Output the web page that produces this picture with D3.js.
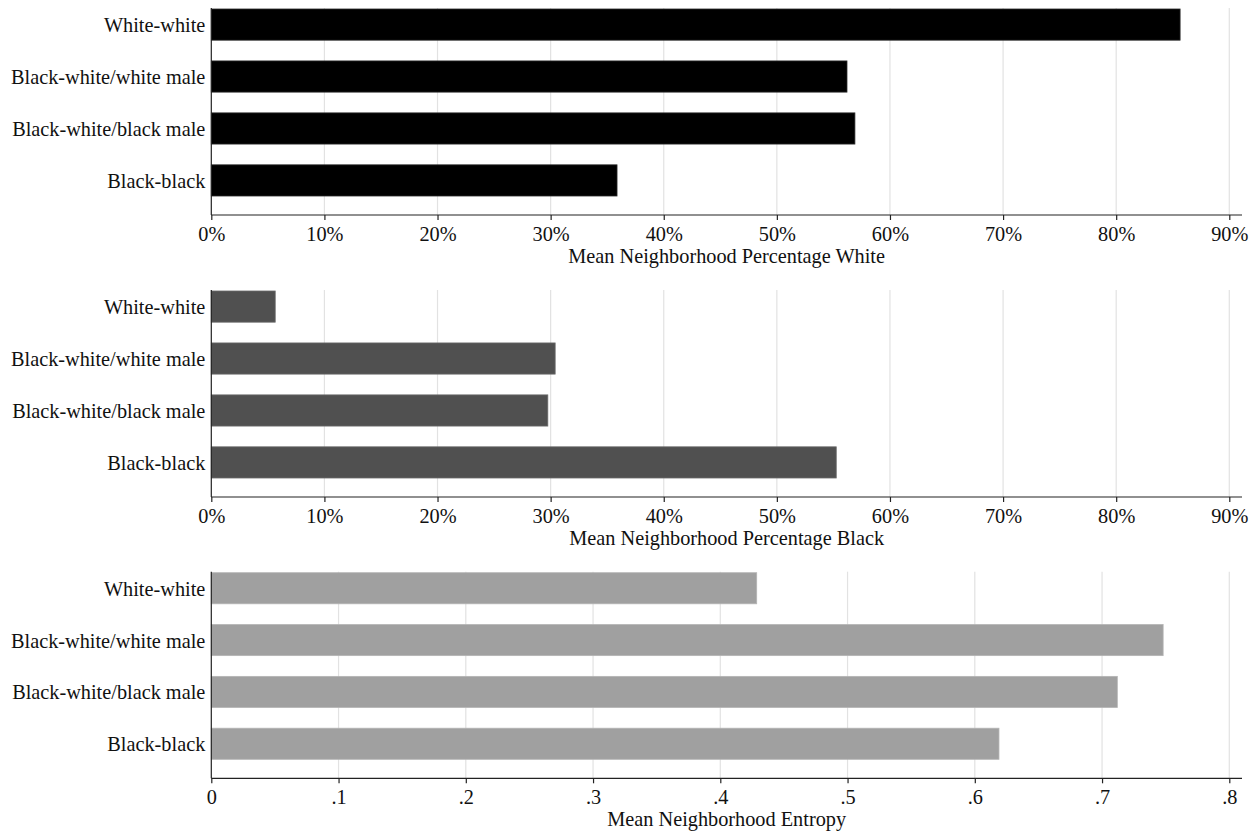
<!DOCTYPE html>
<html>
<head>
<meta charset="utf-8">
<script src="https://cdn.jsdelivr.net/npm/d3@7"></script>
<style>
  html, body { margin: 0; padding: 0; background: #fff; }
  svg { display: block; }
  text { font-family: "Liberation Serif", "Times New Roman", serif; fill: #111; }
</style>
</head>
<body>
<script>
// ---- Data ----
const categories = ["White-white", "Black-white/white male", "Black-white/black male", "Black-black"];
const pctWhite = [85.65, 56.2, 56.9, 35.87];
const pctBlack = [5.65, 30.4, 29.75, 55.25];
const entropy = [0.4286, 0.748, 0.712, 0.619];
const percentTicks = [0, 10, 20, 30, 40, 50, 60, 70, 80, 90];
const entropyTicks = [0, 0.1, 0.2, 0.3, 0.4, 0.5, 0.6, 0.7, 0.8];
const titles = ["Mean Neighborhood Percentage White", "Mean Neighborhood Percentage Black", "Mean Neighborhood Entropy"];

// ---- Layout ----
const W = 1259, H = 839;
const FS = 20.3;
const plotLeft = 211.3, lastTickX = 1229.3, plotRight = 1242;
const panels = [
  { values: pctWhite, ticks: percentTicks, max: 90, fmt: d => d + "%", title: titles[0],
    top: 8, axisY: 215, fill: "#000000", stroke: "#2a2a2a" },
  { values: pctBlack, ticks: percentTicks, max: 90, fmt: d => d + "%", title: titles[1],
    top: 290, axisY: 497, fill: "#505050", stroke: "#6a6a6a" },
  { values: entropy, ticks: entropyTicks, max: 0.8,
    fmt: d => d === 0 ? "0" : d3.format(".1f")(d).replace(/^0/, ""), title: titles[2],
    top: 571.7, axisY: 778.3, fill: "#a0a0a0", stroke: "#b4b4b4" }
];

const svg = d3.select("body").append("svg").attr("width", W).attr("height", H);

panels.forEach(p => {
  const g = svg.append("g");
  const x = d3.scaleLinear().domain([0, p.max]).range([plotLeft, lastTickX]);
  const y = d3.scaleBand().domain(categories)
    .range([p.top + 1, p.axisY - 19]).paddingInner(0.4).paddingOuter(0);

  // gridlines
  g.selectAll("line.grid").data(p.ticks.filter(t => t > 0)).join("line")
    .attr("class", "grid")
    .attr("x1", d => x(d)).attr("x2", d => x(d))
    .attr("y1", p.top).attr("y2", p.axisY)
    .attr("stroke", "#e2e2e2").attr("stroke-width", 1.2);

  // bars
  g.selectAll("rect.bar").data(p.values).join("rect")
    .attr("class", "bar")
    .attr("x", x(0))
    .attr("y", (d, i) => y(categories[i]))
    .attr("width", d => x(d) - x(0))
    .attr("height", y.bandwidth())
    .attr("fill", p.fill)
    .attr("stroke", p.stroke).attr("stroke-width", 0.8);

  // category labels
  g.selectAll("text.cat").data(categories).join("text")
    .attr("class", "cat")
    .attr("x", plotLeft - 6)
    .attr("y", d => y(d) + y.bandwidth() / 2)
    .attr("dy", "0.37em")
    .attr("text-anchor", "end")
    .attr("font-size", FS)
    .text(d => d);

  // left axis line
  g.append("line")
    .attr("x1", plotLeft).attr("x2", plotLeft)
    .attr("y1", p.top).attr("y2", p.axisY)
    .attr("stroke", "#222").attr("stroke-width", 1.2);

  // bottom axis
  const ax = g.append("g").attr("transform", `translate(0,${p.axisY})`)
    .call(d3.axisBottom(x).tickValues(p.ticks).tickFormat(p.fmt).tickSize(5).tickPadding(6));
  ax.select(".domain").remove();
  ax.selectAll(".tick line").attr("stroke", "#222").attr("stroke-width", 1.2);
  ax.selectAll(".tick text")
    .attr("font-size", FS)
    .attr("font-family", "Liberation Serif, Times New Roman, serif")
    .attr("fill", "#111")
    .attr("y", 0).attr("dy", 0)
    .attr("transform", "translate(0,25.5)");
  g.append("line")
    .attr("x1", plotLeft).attr("x2", plotRight)
    .attr("y1", p.axisY).attr("y2", p.axisY)
    .attr("stroke", "#222").attr("stroke-width", 1.2);

  // axis title
  g.append("text")
    .attr("x", (plotLeft + plotRight) / 2)
    .attr("y", p.axisY + 47.5)
    .attr("text-anchor", "middle")
    .attr("font-size", FS)
    .text(p.title);
});
</script>
</body>
</html>
